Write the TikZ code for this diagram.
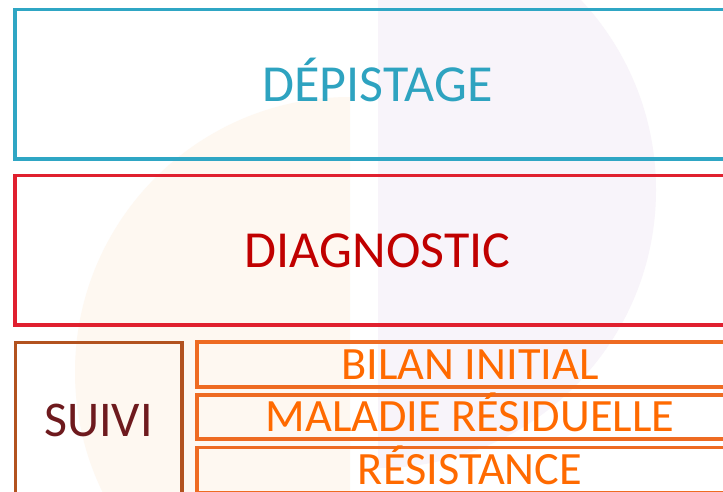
\documentclass[tikz,border=0pt]{standalone}
\usepackage{fontspec}
\setmainfont{Carlito}
\definecolor{cyanB}{HTML}{2FA6C4}
\definecolor{cyanT}{HTML}{2EA3C0}
\definecolor{redB}{HTML}{E0202F}
\definecolor{redT}{HTML}{C00000}
\definecolor{brownB}{HTML}{B2521F}
\definecolor{maroonT}{HTML}{6E1A1E}
\definecolor{orangeB}{HTML}{EE6B22}
\definecolor{orangeT}{HTML}{FF6A00}
\definecolor{peachBg}{HTML}{FEF8F1}
\definecolor{lavBg}{HTML}{F8F4FA}
\begin{document}
\begin{tikzpicture}[x=1pt,y=-1pt,
  box/.style={draw, rectangle, inner sep=0pt, line width=3.6pt, fill=none, text depth=0pt},
  bigtext/.style={font=\fontsize{52}{60}\selectfont, text height=33.5pt},
  smalltext/.style={font=\fontsize{46.3}{55}\selectfont, text height=29.8pt},
  suivitext/.style={font=\fontsize{50}{58}\selectfont, text height=32.2pt}]
\useasboundingbox (0,0) rectangle (723,491);
\clip (0,0) rectangle (723,491);
\fill[white] (0,0) rectangle (723,491);
% background shapes
\begin{scope}
  \clip (0,0) rectangle (350,491);
  \fill[peachBg] (350,372) circle[radius=275];
\end{scope}
\begin{scope}
  \clip (378,0) rectangle (723,491);
  \fill[lavBg] (378,190) circle[radius=278];
\end{scope}
% boxes
\node[box, bigtext, draw=cyanB, text=cyanT, minimum width=725pt, minimum height=149.5pt] (dep) at (377.5,84.3) {DÉPISTAGE};
\node[box, bigtext, draw=redB, text=redT, minimum width=725pt, minimum height=149.5pt] (diag) at (377.5,250.3) {DIAGNOSTIC};
\node[box, suivitext, draw=brownB, text=maroonT, minimum width=166.4pt, minimum height=156pt] (suivi) at (98.5,420.3) {SUIVI};
\node[box, smalltext, draw=orangeB, text=orangeT, minimum width=546pt, minimum height=44.7pt] (bilan) at (470,364.6) {BILAN INITIAL};
\node[box, smalltext, draw=orangeB, text=orangeT, minimum width=546pt, minimum height=43.7pt] (mal) at (470,416.9) {MALADIE RÉSIDUELLE};
\node[box, smalltext, draw=orangeB, text=orangeT, minimum width=546pt, minimum height=44.7pt] (res) at (470,470) {RÉSISTANCE};
\end{tikzpicture}
\end{document}
